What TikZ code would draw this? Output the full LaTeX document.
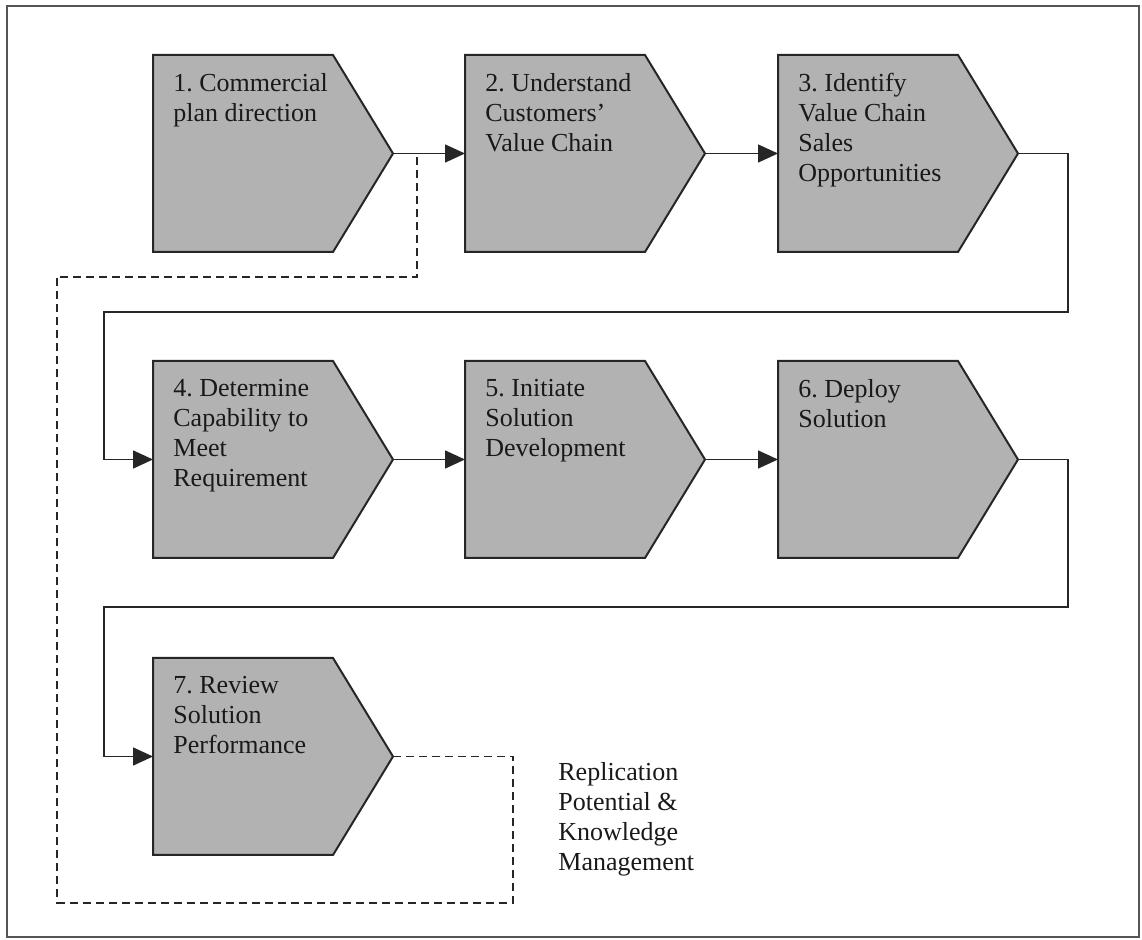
\documentclass[tikz,border=0pt]{standalone}
\usepackage{fontspec}
\setmainfont{Liberation Serif}
\usetikzlibrary{arrows.meta,calc}

\definecolor{stepgray}{RGB}{178,178,178}
\definecolor{framegray}{RGB}{85,85,85}

% One process step: body rectangle (named), pentagon outline, tip coordinate, text
\newcommand{\procstep}[4]{%
  \node[stepbody] (#1) at (#2,#3) {};
  \coordinate (#1-tip) at ($(#1.east)+(60,0)$);
  \filldraw[stepshape] (#1.north west) -- (#1.north east) -- (#1-tip)
    -- (#1.south east) -- (#1.south west) -- cycle;
  \node[steptext] (#1-label) at ($(#1.north west)+(20,18)$) {#4};
}

\begin{document}
\frenchspacing
\begin{tikzpicture}[x=0.5pt,y=-0.5pt,
  stepbody/.style={rectangle, anchor=north west, minimum width=90pt,
    minimum height=98.5pt, inner sep=0pt, outer sep=0pt},
  stepshape/.style={fill=stepgray, draw=black!85, line width=1pt, line join=miter},
  steptext/.style={anchor=north west, inner sep=0pt, align=left,
    font=\fontsize{13}{15}\selectfont\frenchspacing, text=black!90},
  flow/.style={draw=black!85, line width=0.75pt,
    -{Triangle[length=10pt,width=9pt]}},
  feedback/.style={draw=black!85, line width=0.75pt, dash pattern=on 4pt off 2.5pt},
  note/.style={anchor=north west, inner sep=0pt, align=left,
    font=\fontsize{13}{15}\selectfont, text=black!90}]

  \useasboundingbox (0,0) rectangle (1142,940);
  \draw[framegray, line width=1pt] (7,6) rectangle (1139,937);

  % process steps
  \procstep{s1}{153}{55}{1. Commercial\\plan direction}
  \procstep{s2}{465}{55}{2. Understand\\Customers’\\Value Chain}
  \procstep{s3}{778}{55}{3. Identify\\Value Chain\\Sales\\Opportunities}
  \procstep{s4}{153}{361}{4. Determine\\Capability to\\Meet\\Requirement}
  \procstep{s5}{465}{361}{5. Initiate\\Solution\\Development}
  \procstep{s6}{778}{361}{6. Deploy\\Solution}
  \procstep{s7}{153}{658}{7. Review\\Solution\\Performance}

  % routing points for the wrap-around connectors
  \coordinate (r1b) at (1068,312);
  \coordinate (r1c) at (104,312);
  \coordinate (r2b) at (1068,607);
  \coordinate (r2c) at (104,607);

  % main flow
  \draw[flow] (s1-tip) -- (s2.west);
  \draw[flow] (s2-tip) -- (s3.west);
  \draw[flow] (s3-tip) -| (r1b) -- (r1c) |- (s4.west);
  \draw[flow] (s4-tip) -- (s5.west);
  \draw[flow] (s5-tip) -- (s6.west);
  \draw[flow] (s6-tip) -| (r2b) -- (r2c) |- (s7.west);

  % feedback loop
  \coordinate (fb2) at (513,903);
  \coordinate (fb3) at (57,903);
  \coordinate (fb4) at (57,277);
  \coordinate (fb5) at (417,277);
  \draw[feedback] (s7-tip) -| (fb2) -- (fb3) -- (fb4) -- (fb5) -- (fb5 |- s1-tip);

  \node[note] (replication) at (558,762) {Replication\\Potential \&\\Knowledge\\Management};
\end{tikzpicture}
\end{document}
